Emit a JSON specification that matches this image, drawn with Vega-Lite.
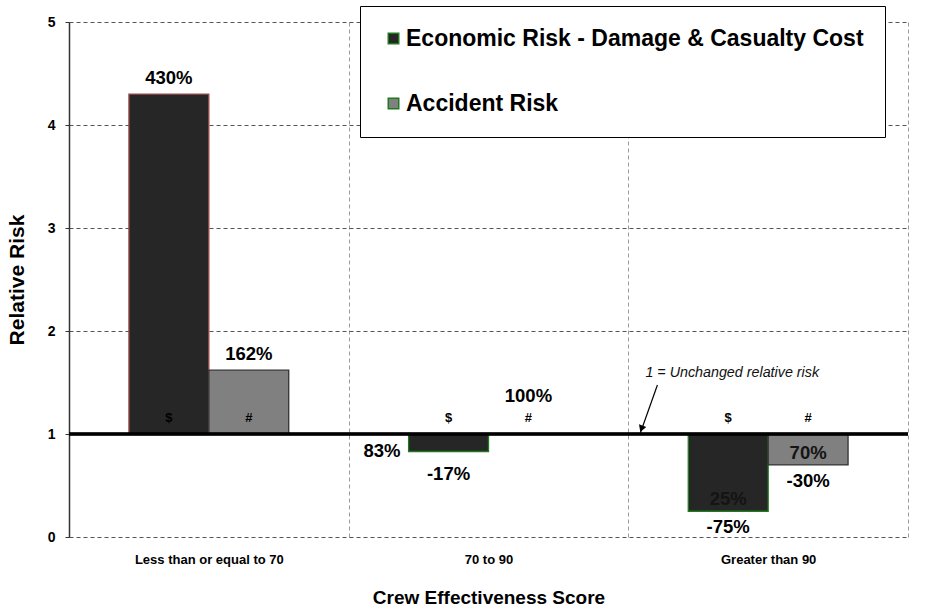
{
  "$schema": "https://vega.github.io/schema/vega-lite/v6.json",
  "autosize": "none",
  "width": 839,
  "height": 515,
  "padding": {"left": 69, "top": 22, "right": 22, "bottom": 76},
  "background": "white",
  "config": {
    "font": "Liberation Sans",
    "view": {"stroke": null},
    "locale": {
      "number": {"decimal": ".", "thousands": ",", "grouping": [3], "currency": ["$", ""], "minus": "-"}
    },
    "legend": {
      "orient": "none",
      "legendX": 291,
      "legendY": -16,
      "title": null,
      "symbolType": "square",
      "symbolSize": 110,
      "symbolStrokeWidth": 1.5,
      "symbolOffset": 1,
      "labelFont": "Liberation Sans",
      "labelFontSize": 23,
      "labelFontWeight": "bold",
      "labelColor": "#000000",
      "labelOffset": 1,
      "labelLimit": 600,
      "rowPadding": 41,
      "padding": 21,
      "strokeColor": "#000000",
      "fillColor": "#ffffff"
    }
  },
  "datasets": {
    "risk": [
      {"group": "Less than or equal to 70", "series": "Economic Risk - Damage & Casualty Cost", "value": 4.3},
      {"group": "Less than or equal to 70", "series": "Accident Risk", "value": 1.62},
      {"group": "70 to 90", "series": "Economic Risk - Damage & Casualty Cost", "value": 0.83},
      {"group": "70 to 90", "series": "Accident Risk", "value": 1.0},
      {"group": "Greater than 90", "series": "Economic Risk - Damage & Casualty Cost", "value": 0.25},
      {"group": "Greater than 90", "series": "Accident Risk", "value": 0.7}
    ],
    "note": [
      {"x": 2.061, "y": 1.59, "x2": 2.104, "y2": 1.476, "tipX": 2.043, "tipY": 1.01, "headX": 2.047, "headY": 1.05, "text": "1 = Unchanged relative risk"}
    ]
  },
  "layer": [
    {
      "data": {"name": "risk"},
      "encoding": {
        "x": {
          "field": "group",
          "type": "nominal",
          "sort": ["Less than or equal to 70", "70 to 90", "Greater than 90"],
          "scale": {"paddingInner": 0, "paddingOuter": 0},
          "axis": {
            "title": "Crew Effectiveness Score",
            "titleFont": "Liberation Sans",
            "titleFontSize": 19,
            "titleFontWeight": "bold",
            "titleColor": "#000000",
            "titlePadding": 22,
            "labelFont": "Liberation Sans",
            "labelFontSize": 13,
            "labelFontWeight": "bold",
            "labelColor": "#000000",
            "labelAngle": 0,
            "labelPadding": 16,
            "labelBaseline": "top",
            "ticks": false,
            "tickSize": 0,
            "domain": false,
            "tickBand": "extent",
            "grid": true,
            "gridColor": "#9a9a9a",
            "gridDash": [4, 3],
            "gridWidth": 1
          }
        },
        "xOffset": {
          "field": "series",
          "type": "nominal",
          "sort": ["Economic Risk - Damage & Casualty Cost", "Accident Risk"],
          "scale": {"paddingInner": 0, "paddingOuter": 0.75}
        },
        "y": {
          "field": "value",
          "type": "quantitative",
          "scale": {"domain": [0, 5], "nice": false, "zero": true},
          "axis": {
            "title": "Relative Risk",
            "titleFont": "Liberation Sans",
            "titleFontSize": 21,
            "titleFontWeight": "bold",
            "titleColor": "#000000",
            "titlePadding": 20,
            "values": [0, 1, 2, 3, 4, 5],
            "format": "d",
            "labelFont": "Liberation Sans",
            "labelFontSize": 14,
            "labelFontWeight": "bold",
            "labelColor": "#000000",
            "labelPadding": 10,
            "tickSize": 4,
            "tickColor": "#333333",
            "domainColor": "#333333",
            "domainWidth": 1.5,
            "grid": true,
            "gridColor": "#555555",
            "gridDash": [4, 3],
            "gridWidth": 1
          }
        }
      },
      "layer": [
        {
          "mark": {"type": "bar", "strokeWidth": 1.3},
          "encoding": {
            "y2": {"datum": 1},
            "color": {
              "field": "series",
              "type": "nominal",
              "scale": {
                "domain": ["Economic Risk - Damage & Casualty Cost", "Accident Risk"],
                "range": ["#262626", "#808080"]
              },
              "legend": {
                "encode": {
                  "symbols": {
                    "update": {
                      "stroke": {"signal": "datum.value === 'Accident Risk' ? '#222222' : '#1f7a1f'"}
                    }
                  }
                }
              }
            },
            "stroke": {
              "condition": [
                {"test": "datum.series === 'Accident Risk'", "value": "#333333"},
                {"test": "datum.group === 'Less than or equal to 70'", "value": "#9c4a4a"}
              ],
              "value": "#1f7a1f"
            },
            "opacity": {"value": 1}
          }
        },
        {
          "mark": {"type": "rule", "color": "#000000", "strokeWidth": 2.5},
          "encoding": {"y": {"datum": 1}, "x": null, "xOffset": null}
        },
        {
          "transform": [{"filter": "datum.group === 'Less than or equal to 70'"}],
          "mark": {"type": "text", "fontSize": 18.5, "fontWeight": "bold", "baseline": "middle", "dy": -16, "color": "#000000"},
          "encoding": {"text": {"field": "value", "type": "quantitative", "format": ".0%"}}
        },
        {
          "transform": [{"filter": "datum.group === '70 to 90' && datum.series === 'Accident Risk'"}],
          "mark": {"type": "text", "fontSize": 18.5, "fontWeight": "bold", "baseline": "middle", "dy": -38, "color": "#000000"},
          "encoding": {"text": {"field": "value", "type": "quantitative", "format": ".0%"}}
        },
        {
          "transform": [{"filter": "datum.group === '70 to 90' && datum.series !== 'Accident Risk'"}],
          "mark": {"type": "text", "fontSize": 18.5, "fontWeight": "bold", "baseline": "middle", "align": "right", "dx": -48, "dy": -1, "color": "#000000"},
          "encoding": {"text": {"field": "value", "type": "quantitative", "format": ".0%"}}
        },
        {
          "transform": [
            {"filter": "datum.group === '70 to 90' && datum.series !== 'Accident Risk'"},
            {"calculate": "datum.value - 1", "as": "change"}
          ],
          "mark": {"type": "text", "fontSize": 18.5, "fontWeight": "bold", "baseline": "middle", "dy": 22, "color": "#000000"},
          "encoding": {"text": {"field": "change", "type": "quantitative", "format": ".0%"}}
        },
        {
          "transform": [
            {"filter": "datum.group === 'Greater than 90'"},
            {"calculate": "datum.value - 1", "as": "change"}
          ],
          "mark": {"type": "text", "fontSize": 18.5, "fontWeight": "bold", "baseline": "middle", "dy": 16, "color": "#000000"},
          "encoding": {"text": {"field": "change", "type": "quantitative", "format": ".0%"}}
        },
        {
          "transform": [{"filter": "datum.group === 'Greater than 90'"}],
          "mark": {"type": "text", "fontSize": 18.5, "fontWeight": "bold", "baseline": "middle", "dy": -12, "color": "#141414"},
          "encoding": {"text": {"field": "value", "type": "quantitative", "format": ".0%"}}
        },
        {
          "mark": {"type": "text", "fontSize": 13, "fontWeight": "bold", "baseline": "middle", "color": "#000000"},
          "encoding": {
            "y": {"datum": 1.16},
            "text": {
              "condition": {"test": "datum.series === 'Accident Risk'", "value": "#"},
              "value": "$"
            }
          }
        }
      ]
    },
    {
      "data": {"name": "note"},
      "encoding": {
        "x": {"field": "x", "type": "quantitative", "scale": {"domain": [0, 3], "nice": false, "zero": false}, "axis": null}
      },
      "layer": [
        {
          "mark": {"type": "text", "fontSize": 14.3, "fontStyle": "italic", "align": "left", "baseline": "middle", "color": "#111111"},
          "encoding": {
            "y": {"field": "y", "type": "quantitative"},
            "text": {"field": "text"}
          }
        },
        {
          "mark": {"type": "rule", "color": "#000000", "strokeWidth": 1.2},
          "encoding": {
            "x": {"field": "x2", "type": "quantitative"},
            "y": {"field": "y2", "type": "quantitative"},
            "x2": {"field": "tipX"},
            "y2": {"field": "tipY"}
          }
        },
        {
          "mark": {"type": "point", "shape": "triangle-up", "filled": true, "color": "#000000", "size": 60, "angle": 200, "opacity": 1},
          "encoding": {
            "x": {"field": "headX", "type": "quantitative"},
            "y": {"field": "headY", "type": "quantitative"}
          }
        }
      ]
    }
  ],
  "resolve": {"scale": {"x": "independent"}}
}
